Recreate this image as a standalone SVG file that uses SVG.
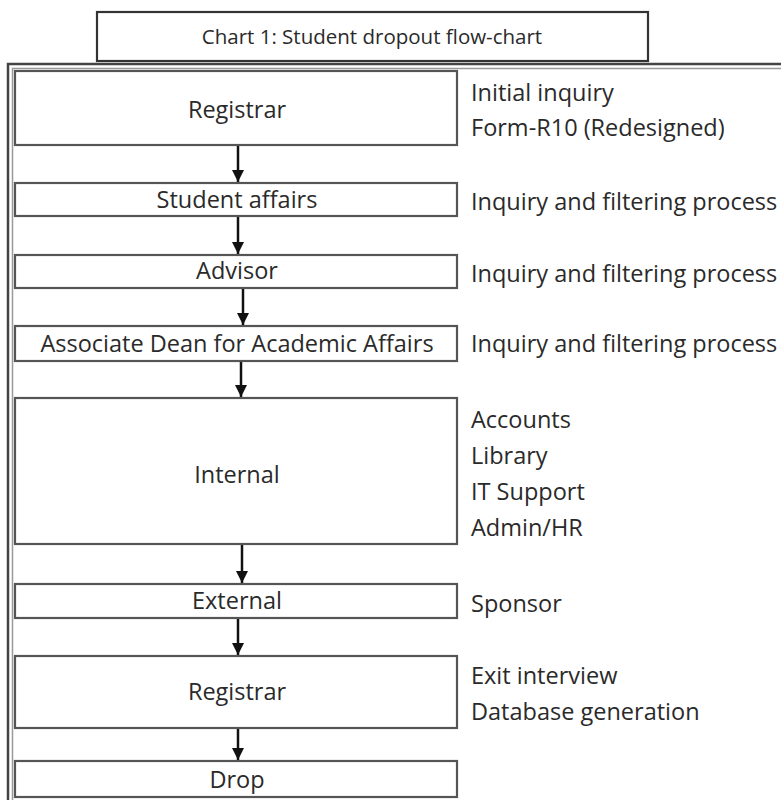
<svg xmlns="http://www.w3.org/2000/svg" width="781" height="800" viewBox="0 0 781 800">
<defs>
<style>
.box{fill:#fff;stroke:#555;stroke-width:2.2}
.t{font-family:"Open Sans","Liberation Sans",sans-serif;font-size:23.5px;fill:#2a2a2a}
.c{text-anchor:middle}
.frame{fill:none;stroke:#444;stroke-width:2.5}
.edge{stroke:#111;stroke-width:2.5;fill:none;marker-end:url(#ah)}
</style>
<marker id="ah" viewBox="0 0 10 10" refX="10" refY="5" markerWidth="12" markerHeight="12" markerUnits="userSpaceOnUse" orient="auto">
<path d="M0,0 L10,5 L0,10 z" fill="#111"/>
</marker>
</defs>
<rect width="781" height="800" fill="#fff"/>
<g id="title">
<rect class="box" x="97" y="12" width="551" height="49" style="stroke:#333"/>
<text class="t c" x="372" y="44" style="font-size:20.5px">Chart 1: Student dropout flow-chart</text>
</g>
<g id="frame">
<path class="frame" d="M8,800 V64 H781"/>
<path class="frame" d="M12.5,800 V68.5 H781" style="stroke:#999;stroke-width:1.5"/>
</g>
<g id="connectors">
<line class="edge" x1="238" y1="146" x2="238" y2="182"/>
<line class="edge" x1="238" y1="217" x2="238" y2="254"/>
<line class="edge" x1="243" y1="289" x2="243" y2="325"/>
<line class="edge" x1="241" y1="361" x2="241" y2="397"/>
<line class="edge" x1="242" y1="544" x2="242" y2="583"/>
<line class="edge" x1="238" y1="618" x2="238" y2="655"/>
<line class="edge" x1="238" y1="728" x2="238" y2="760"/>
</g>
<g id="n1">
<rect class="box" x="15" y="71" width="442" height="74"/>
<text class="t c" x="237" y="118">Registrar</text>
</g>
<g id="n2">
<rect class="box" x="15" y="183" width="442" height="33"/>
<text class="t c" x="237" y="208">Student affairs</text>
</g>
<g id="n3">
<rect class="box" x="15" y="255" width="442" height="33"/>
<text class="t c" x="237" y="279">Advisor</text>
</g>
<g id="n4">
<rect class="box" x="15" y="326" width="442" height="35"/>
<text class="t c" x="237" y="352">Associate Dean for Academic Affairs</text>
</g>
<g id="n5">
<rect class="box" x="15" y="398" width="442" height="146"/>
<text class="t c" x="237" y="483">Internal</text>
</g>
<g id="n6">
<rect class="box" x="15" y="584" width="442" height="34"/>
<text class="t c" x="237" y="609">External</text>
</g>
<g id="n7">
<rect class="box" x="15" y="656" width="442" height="72"/>
<text class="t c" x="237" y="700">Registrar</text>
</g>
<g id="n8">
<rect class="box" x="15" y="761" width="442" height="36"/>
<text class="t c" x="237" y="788">Drop</text>
</g>
<g id="notes">
<text class="t" x="471" y="101">Initial inquiry</text>
<text class="t" x="471" y="136">Form-R10 (Redesigned)</text>
<text class="t" x="471" y="210">Inquiry and filtering process</text>
<text class="t" x="471" y="282">Inquiry and filtering process</text>
<text class="t" x="471" y="352">Inquiry and filtering process</text>
<text class="t" x="471" y="428">Accounts</text>
<text class="t" x="471" y="464">Library</text>
<text class="t" x="471" y="500">IT Support</text>
<text class="t" x="471" y="536">Admin/HR</text>
<text class="t" x="471" y="612">Sponsor</text>
<text class="t" x="471" y="684">Exit interview</text>
<text class="t" x="471" y="720">Database generation</text>
</g>
</svg>
